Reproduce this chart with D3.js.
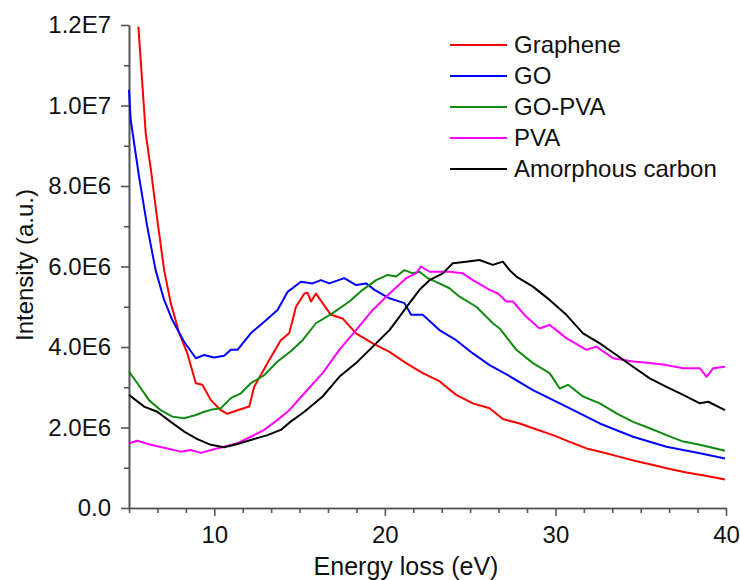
<!DOCTYPE html>
<html>
<head>
<meta charset="utf-8">
<script src="https://cdn.jsdelivr.net/npm/d3@7"></script>
<style>
  body { margin: 0; background: #fff; }
  text { font-family: Arial, "Liberation Sans", sans-serif; }
</style>
</head>
<body>
<figure id="eels" style="margin:0"></figure>
<script>
// [energy loss (eV), intensity (1E6 a.u.)]
const graphene = [[5.55,11.96],[5.98,9.31],[6.27,8.45],[6.66,7.16],[7.06,5.91],[7.45,5.09],[7.94,4.35],[8.42,3.84],[8.92,3.10],[9.30,3.06],[9.80,2.68],[10.38,2.43],[10.77,2.34],[11.36,2.43],[12.05,2.52],[12.34,3.01],[13.12,3.6],[13.9,4.17],[14.4,4.35],[14.79,5.0],[15.28,5.33],[15.47,5.35],[15.67,5.13],[15.96,5.33],[16.35,5.09],[16.84,4.80],[17.52,4.71],[18.31,4.34],[19.29,4.09],[20.27,3.88],[21.25,3.60],[22.22,3.35],[23.2,3.15],[24.18,2.81],[25.16,2.60],[26.14,2.48],[26.92,2.21],[27.9,2.10],[28.9,1.95],[29.86,1.81],[30.8,1.65],[31.82,1.48],[32.8,1.38],[33.77,1.27],[34.7,1.17],[35.73,1.07],[36.7,0.97],[37.69,0.88],[38.8,0.80],[39.94,0.71]];
const go = [[5.0,10.39],[5.1,9.64],[5.59,8.23],[6.07,6.99],[6.56,5.91],[7.06,5.17],[7.54,4.67],[8.23,4.13],[8.92,3.72],[9.40,3.80],[9.99,3.74],[10.58,3.78],[10.97,3.93],[11.36,3.93],[12.14,4.34],[12.93,4.63],[13.71,4.92],[14.3,5.37],[15.08,5.62],[15.76,5.58],[16.25,5.66],[16.74,5.58],[17.62,5.71],[18.31,5.54],[18.9,5.58],[19.39,5.42],[20.27,5.21],[21.15,5.09],[21.54,4.80],[22.22,4.80],[23.2,4.42],[24.18,4.17],[25.16,3.84],[26.14,3.55],[27.21,3.30],[28.68,2.93],[30.64,2.52],[32.6,2.10],[34.55,1.77],[36.51,1.52],[38.47,1.36],[39.94,1.23]];
const goPva = [[5.0,3.39],[5.49,3.10],[6.17,2.68],[6.86,2.43],[7.54,2.27],[8.23,2.23],[8.92,2.31],[9.40,2.39],[9.89,2.45],[10.38,2.48],[10.97,2.73],[11.56,2.85],[12.14,3.10],[12.93,3.30],[13.71,3.64],[14.5,3.90],[15.18,4.17],[15.96,4.59],[16.94,4.84],[17.92,5.13],[18.7,5.42],[19.49,5.66],[20.17,5.79],[20.66,5.75],[21.15,5.91],[21.64,5.83],[22.03,5.87],[22.52,5.71],[23.0,5.62],[23.79,5.46],[24.38,5.25],[25.36,5.0],[26.33,4.59],[26.73,4.46],[27.71,3.93],[28.68,3.60],[29.66,3.35],[30.25,2.97],[30.74,3.06],[31.62,2.77],[32.6,2.60],[33.58,2.35],[34.55,2.14],[35.53,1.98],[36.51,1.81],[37.49,1.65],[38.47,1.57],[39.94,1.42]];
const pva = [[5.0,1.61],[5.49,1.67],[6.27,1.57],[7.25,1.48],[8.03,1.40],[8.62,1.44],[9.21,1.37],[9.99,1.46],[10.58,1.52],[11.36,1.61],[12.14,1.77],[12.93,1.94],[13.71,2.19],[14.4,2.43],[15.28,2.85],[16.35,3.35],[17.33,3.93],[18.31,4.42],[19.29,4.92],[20.27,5.33],[21.25,5.71],[21.83,5.83],[22.12,6.0],[22.62,5.87],[23.4,5.87],[23.79,5.87],[24.57,5.83],[25.16,5.66],[26.14,5.42],[26.63,5.33],[27.12,5.13],[27.51,5.13],[28.29,4.75],[29.07,4.46],[29.66,4.55],[30.64,4.22],[31.82,3.93],[32.4,4.01],[33.38,3.72],[34.55,3.64],[35.53,3.60],[36.51,3.55],[37.49,3.47],[38.47,3.47],[38.86,3.26],[39.25,3.47],[39.94,3.51]];
const amorphous = [[5.0,2.81],[5.88,2.52],[6.66,2.39],[7.45,2.14],[8.23,1.90],[9.01,1.71],[9.8,1.57],[10.58,1.51],[11.36,1.59],[12.14,1.69],[13.12,1.81],[13.9,1.94],[14.4,2.12],[15.28,2.39],[16.35,2.77],[17.33,3.26],[18.31,3.60],[19.29,4.01],[20.27,4.42],[20.85,4.75],[21.44,5.09],[22.03,5.42],[22.62,5.66],[23.4,5.83],[23.98,6.08],[24.77,6.12],[25.55,6.16],[26.33,6.04],[26.92,6.12],[27.31,5.91],[27.71,5.75],[28.68,5.50],[29.66,5.17],[30.64,4.80],[31.62,4.34],[32.6,4.09],[33.58,3.80],[34.55,3.51],[35.53,3.22],[36.51,3.01],[37.49,2.81],[38.47,2.60],[38.96,2.64],[39.94,2.43]];

const seriesNames = ["Graphene", "GO", "GO-PVA", "PVA", "Amorphous carbon"];
const seriesData = [graphene, go, goPva, pva, amorphous];
const seriesColors = ["#ff0000", "#0000ff", "#108a10", "#ff00ff", "#000000"];

const xTicks = [10, 20, 30, 40];
const xMinorTicks = [5, 6.667, 8.333, 11.667, 13.333, 15, 16.667, 18.333, 21.667, 23.333, 25, 26.667, 28.333, 31.667, 33.333, 35, 36.667, 38.333];
const yTicks = [0, 2, 4, 6, 8, 10, 12];
const yTickLabels = ["0.0", "2.0E6", "4.0E6", "6.0E6", "8.0E6", "1.0E7", "1.2E7"];
const yMinorTicks = [1, 3, 5, 7, 9, 11];

const width = 740, height = 580;
const plotLeft = 129, plotRight = 726, plotTop = 25, plotBottom = 508;
const fontSize = 24;

const svg = d3.select("figure#eels")
  .append("svg")
  .attr("width", width)
  .attr("height", height);

const x = d3.scaleLinear().domain([5, 40]).range([plotLeft, plotRight]);
const y = d3.scaleLinear().domain([0, 12]).range([plotBottom, plotTop]);

// Axes
svg.append("g")
  .attr("transform", "translate(0," + plotBottom + ")")
  .call(d3.axisBottom(x).tickValues(xTicks).tickSize(8).tickSizeOuter(0).tickPadding(10));
svg.append("g")
  .attr("transform", "translate(0," + plotBottom + ")")
  .call(d3.axisBottom(x).tickValues(xMinorTicks).tickSize(5).tickSizeOuter(0).tickFormat(""));

svg.append("g")
  .attr("transform", "translate(" + plotLeft + ",0)")
  .call(d3.axisLeft(y).tickValues(yTicks).tickSize(8).tickSizeOuter(0).tickPadding(10)
    .tickFormat((d, i) => yTickLabels[i]));
svg.append("g")
  .attr("transform", "translate(" + plotLeft + ",0)")
  .call(d3.axisLeft(y).tickValues(yMinorTicks).tickSize(5).tickSizeOuter(0).tickFormat(""));

svg.selectAll(".domain, .tick line")
  .attr("stroke", "#555")
  .attr("stroke-width", 1.6);
svg.selectAll(".tick text")
  .attr("font-size", fontSize)
  .attr("fill", "#111")
  .attr("font-family", "Arial, 'Liberation Sans', sans-serif");

// Axis titles
svg.append("text")
  .attr("x", 406)
  .attr("y", 575)
  .attr("text-anchor", "middle")
  .attr("font-size", 25)
  .attr("fill", "#111")
  .text("Energy loss (eV)");

svg.append("text")
  .attr("transform", "translate(33,265) rotate(-90)")
  .attr("text-anchor", "middle")
  .attr("font-size", fontSize)
  .attr("fill", "#111")
  .text("Intensity (a.u.)");

// Lines
const line = d3.line()
  .x(d => x(d[0]))
  .y(d => y(d[1]));

svg.append("g")
  .selectAll("path")
  .data(seriesData)
  .enter()
  .append("path")
  .attr("d", d => line(d))
  .attr("fill", "none")
  .attr("stroke", (d, i) => seriesColors[i])
  .attr("stroke-width", 2)
  .attr("stroke-linejoin", "round");

// Legend
const legend = svg.append("g").attr("transform", "translate(450,45)");
const rows = legend.selectAll("g")
  .data(seriesNames)
  .enter()
  .append("g")
  .attr("transform", (d, i) => "translate(0," + (i * 31) + ")");
rows.append("line")
  .attr("x1", 0).attr("x2", 57)
  .attr("y1", 0).attr("y2", 0)
  .attr("stroke", (d, i) => seriesColors[i])
  .attr("stroke-width", 2);
rows.append("text")
  .attr("x", 64)
  .attr("y", 0)
  .attr("dy", "0.35em")
  .attr("font-size", fontSize)
  .attr("fill", "#111")
  .text(d => d);
</script>
</body>
</html>
